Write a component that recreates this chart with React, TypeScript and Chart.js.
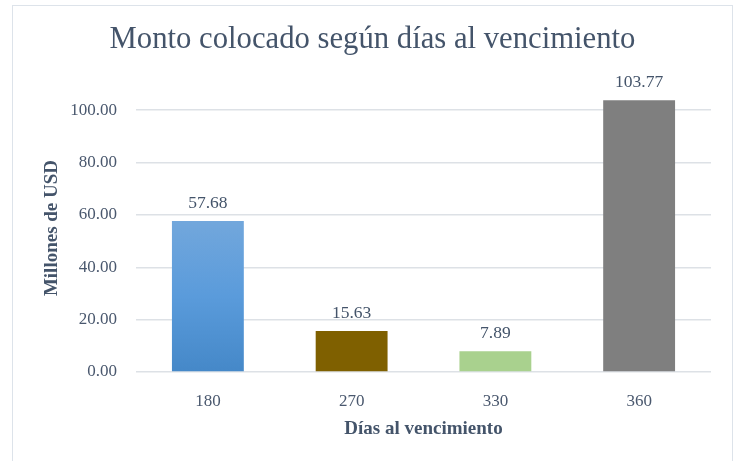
import React, { useEffect, useRef } from "react";
import { Chart, registerables } from "chart.js";

Chart.register(...registerables);

const TITLE = "Monto colocado según días al vencimiento";
const X_TITLE = "Días al vencimiento";
const Y_TITLE = "Millones de USD";
const categories = ["180", "270", "330", "360"];
const values = [57.68, 15.63, 7.89, 103.77];
const valueLabels = ["57.68", "15.63", "7.89", "103.77"];
const barColors = ["gradient", "#7f6000", "#a9d18e", "#7f7f7f"];
const yTickMax = 100;

const FONT = "'Liberation Serif', 'Times New Roman', serif";
const TEXT = "#44546a";
const TICK = "#4a586e";
const GRID = "#dde1e6";

const dataLabelPlugin = {
  id: "dataLabels",
  afterDatasetsDraw(chart: any) {
    const ctx = chart.ctx;
    const meta = chart.getDatasetMeta(0);
    ctx.save();
    ctx.font = `17.5px ${FONT}`;
    ctx.fillStyle = TEXT;
    ctx.textAlign = "center";
    ctx.textBaseline = "alphabetic";
    meta.data.forEach((bar: any, i: number) => {
      ctx.fillText(valueLabels[i], bar.x, bar.y - 13);
    });
    ctx.restore();
  },
};

export default function App() {
  const ref = useRef<HTMLCanvasElement | null>(null);
  useEffect(() => {
    if (!ref.current) return;
    const chart = new Chart(ref.current, {
      type: "bar",
      data: {
        labels: categories,
        datasets: [
          {
            data: values,
            backgroundColor: (c: any) => {
              const col = barColors[c.dataIndex];
              if (col !== "gradient") return col;
              const ch = c.chart;
              const ys = ch.scales?.y;
              if (!ch.chartArea || !ys) return "#5b9bd5";
              const y0 = ys.getPixelForValue(values[c.dataIndex]);
              const y1 = ys.getPixelForValue(0);
              if (!Number.isFinite(y0) || !Number.isFinite(y1)) return "#5b9bd5";
              const g = ch.ctx.createLinearGradient(0, y0, 0, y1);
              g.addColorStop(0, "#72a7dc");
              g.addColorStop(0.5, "#5a9bdb");
              g.addColorStop(1, "#4588c8");
              return g;
            },
            borderWidth: 0,
            categoryPercentage: 1,
            barPercentage: 0.5,
          },
        ],
      },
      options: {
        responsive: false,
        animation: false,
        events: [],
        layout: { padding: { left: 21, right: 21, top: 0, bottom: 0 } },
        plugins: {
          legend: { display: false },
          tooltip: { enabled: false },
          title: {
            display: true,
            text: TITLE,
            color: TEXT,
            font: { family: FONT, size: 30.7, weight: "normal" },
            padding: { top: 16, bottom: 25.2 },
          },
        },
        scales: {
          x: {
            grid: { display: false, drawTicks: false },
            border: { display: false },
            ticks: {
              color: TICK,
              font: { family: FONT, size: 17 },
              padding: 19,
            },
            title: {
              display: true,
              text: X_TITLE,
              color: TEXT,
              font: { family: FONT, size: 19, weight: "bold" },
              padding: { top: 0, bottom: 21 },
            },
            afterFit: (s: any) => {
              s.height = 89;
            },
          },
          y: {
            min: 0,
            max: 110,
            grid: { color: GRID, lineWidth: 1.5, drawTicks: false },
            border: { display: false },
            ticks: {
              stepSize: 20,
              color: TICK,
              font: { family: FONT, size: 17 },
              padding: 19,
              callback: (v: any) => Number(v).toFixed(2),
            },
            afterBuildTicks: (s: any) => {
              s.ticks = s.ticks.filter((t: any) => t.value <= yTickMax);
            },
            title: {
              display: true,
              text: Y_TITLE,
              color: TEXT,
              font: { family: FONT, size: 19, weight: "bold" },
              padding: { top: 6.5, bottom: 0 },
            },
            afterFit: (s: any) => {
              s.width = 102;
            },
          },
        },
      },
      plugins: [dataLabelPlugin],
    });
    return () => chart.destroy();
  }, []);

  return (
    <div
      style={{
        position: "absolute",
        left: 12,
        top: 5,
        width: 719,
        height: 455,
        border: "1px solid #dde3ea",
        borderBottom: "none",
        background: "#fff",
      }}
    >
      <canvas ref={ref} width={719} height={455} style={{ display: "block" }} />
    </div>
  );
}
